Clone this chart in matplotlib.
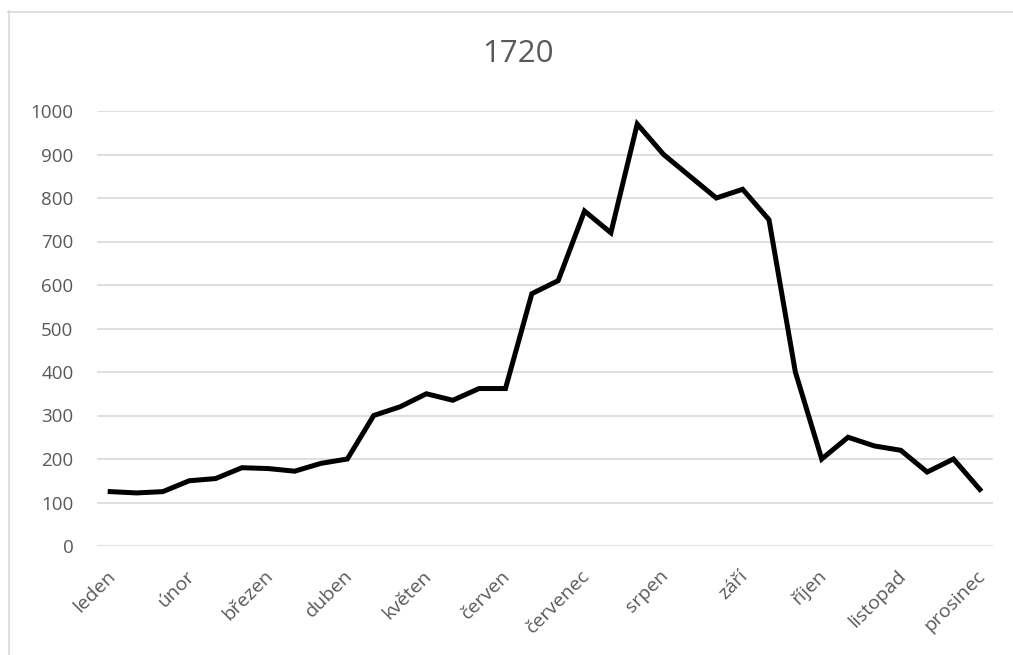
import matplotlib
matplotlib.use("Agg")
import matplotlib.pyplot as plt
from matplotlib.lines import Line2D
from matplotlib.transforms import ScaledTranslation

title = "1720"
months = ["leden", "únor", "březen", "duben", "květen", "červen",
          "červenec", "srpen", "září", "říjen", "listopad", "prosinec"]
values = [125, 122, 125, 150, 155, 180, 178, 172, 190, 200,
          300, 320, 350, 335, 362, 362, 580, 610, 770, 720,
          970, 900, 850, 800, 820, 750, 400, 200, 250, 230,
          220, 170, 200, 130]
yticks = [0, 100, 200, 300, 400, 500, 600, 700, 800, 900, 1000]

W, H = 1013, 655
plt.rcParams['font.family'] = ['Open Sans', 'DejaVu Sans']
fig = plt.figure(figsize=(W / 100, H / 100), dpi=100)
ax = fig.add_axes([97 / W, (H - 546) / H, (993 - 97) / W, (546 - 111) / H])

x = list(range(len(values)))
ax.plot(x, values, color='black', lw=3.6, solid_joinstyle='miter', zorder=3)

ax.set_xlim(-0.5, len(values) - 0.5)
ax.set_ylim(0, 1000)
ax.set_yticks(yticks)
ax.set_yticklabels([str(v) for v in yticks])
ax.yaxis.grid(True, color='#D9D9D9', lw=1.2)
ax.set_axisbelow(True)
ax.set_xticks(x[::3])
ax.set_xticklabels(months, rotation=45, ha='right', rotation_mode='anchor')
for s in ax.spines.values():
    s.set_visible(False)
ax.tick_params(axis='y', length=0, pad=17, labelsize=13.5, labelcolor='#595959')
ax.tick_params(axis='x', length=0, pad=15, labelsize=14, labelcolor='#595959')
off = ScaledTranslation(-4 / 100, 0, fig.dpi_scale_trans)
for lab in ax.get_xticklabels():
    lab.set_transform(lab.get_transform() + off)

fig.text(518 / W, 1 - 54 / H, title, ha='center', va='center',
         fontsize=22.5, color='#595959')

# chart border
fig.add_artist(Line2D([8.5 / W, 8.5 / W], [0, 1 - 11 / H], transform=fig.transFigure,
                      color='#D9D9D9', lw=1.2))
fig.add_artist(Line2D([8 / W, 1], [1 - 11.5 / H, 1 - 11.5 / H], transform=fig.transFigure,
                      color='#D9D9D9', lw=1.2))

fig.savefig("out.png", dpi=100)
